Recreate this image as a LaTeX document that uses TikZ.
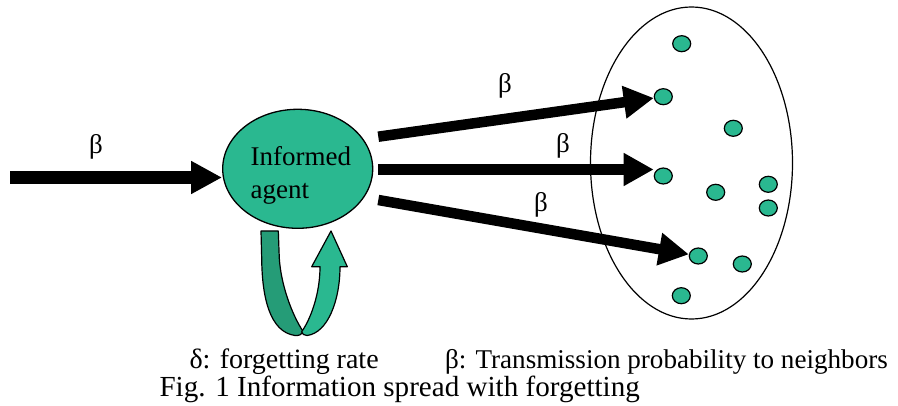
\documentclass[tikz,border=0pt]{standalone}
\usepackage{fontspec}
\setmainfont{Liberation Serif}
\usetikzlibrary{arrows.meta,shapes.geometric}
\definecolor{agentgreen}{RGB}{42,184,144}
\definecolor{backgreen}{RGB}{37,156,119}
\begin{document}
\begin{tikzpicture}[x=1pt,y=-1pt,
  bigarrow/.style={line width=10.5pt,-{Triangle[length=30pt,width=31pt]}},
  inarrow/.style={line width=13pt,-{Triangle[length=31pt,width=31pt]}},
  dot/.style={ellipse,draw,line width=1.2pt,fill=agentgreen,minimum width=18pt,minimum height=16pt,inner sep=0pt},
  lbl/.style={font=\fontsize{27}{30}\selectfont,inner sep=0pt},
  captxt/.style={inner sep=0pt,anchor=base west},
  ribbon/.style={draw,line width=1.2pt,line join=round}]
\path[use as bounding box] (0,0) rectangle (898,406);

% population ellipse
\node[ellipse,draw,line width=1.2pt,minimum width=202pt,minimum height=312pt,inner sep=0pt] (pop) at (691.5,163) {};

% dots
\node[dot] (d1) at (681.7,43.7) {};
\node[dot] (d2) at (663.3,96.7) {};
\node[dot] (d3) at (733.3,128.3) {};
\node[dot] (d4) at (663.3,176) {};
\node[dot] (d5) at (715.7,192.3) {};
\node[dot] (d6) at (768.3,184.3) {};
\node[dot] (d7) at (768.3,208) {};
\node[dot] (d8) at (698.3,256) {};
\node[dot] (d9) at (742.3,264) {};
\node[dot] (d10) at (681.3,295.7) {};

% informed agent
\node[ellipse,draw,line width=1.3pt,fill=agentgreen,minimum width=150pt,minimum height=119pt,inner sep=0pt] (agent) at (297.7,168.8) {};
\node[lbl,anchor=base west] (ag1) at (250.5,166) {Informed};
\node[lbl,anchor=base west] (ag2) at (250.5,199) {agent};

% arrows
\coordinate (tin) at (10,177.5);
\coordinate (t1) at (378.3,136.7);
\coordinate (t2) at (378.3,169.5);
\coordinate (t3) at (378.3,200);
\draw[inarrow] (tin) -- (tin -| agent.west);
\draw[bigarrow] (t1) -- (d2);
\draw[bigarrow] (t2) -- (t2 -| d4.west);
\draw[bigarrow] (t3) -- (d8);

% beta labels
\node[lbl] (b0) at (96,147) {β};
\node[lbl] (b1) at (505,86) {β};
\node[lbl] (b2) at (563,146) {β};
\node[lbl] (b3) at (541,205) {β};

% self loop (forgetting)
\path[ribbon,fill=backgreen] (261,231) -- (278.3,231) -- (279.3,258.3)
  .. controls (281,285) and (292,315) .. (303.3,331.7)
  .. controls (302,334.5) and (299,335.8) .. (295,335.5)
  .. controls (270,332) and (262,298) .. (261.7,258.3) -- cycle;
\path[ribbon,fill=agentgreen] (331,231) -- (347.3,266.7) -- (340,266.7)
  .. controls (340,300) and (328,333) .. (307,335.5)
  .. controls (304,335.5) and (302,334) .. (301.7,331.7)
  .. controls (310,320) and (320,295) .. (320,266.7)
  -- (311.7,266.7) -- cycle;

% captions
\node[captxt,font=\fontsize{28}{30}\selectfont] (c1) at (189.3,368.3) {δ: forgetting rate};
\node[captxt,font=\fontsize{27.1}{30}\selectfont] (c2) at (445,368.3) {β: Transmission probability to neighbors};
\node[captxt,font=\fontsize{29.1}{30}\selectfont] (c3) at (159.3,396) {Fig. 1 Information spread with forgetting};
\end{tikzpicture}
\end{document}
